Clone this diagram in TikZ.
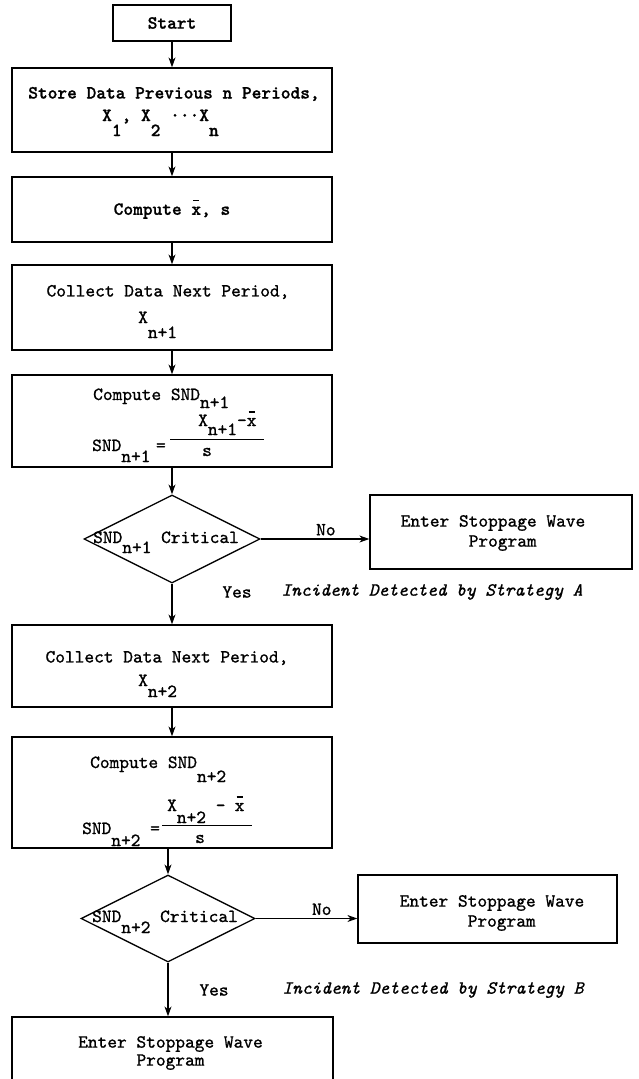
\documentclass[tikz,border=0pt]{standalone}
\usepackage{fontspec}
\usetikzlibrary{arrows.meta,positioning,shapes.geometric}
\newfontfamily\twfam{lmmono10-regular.otf}[BoldFont=lmmonolt10-bold.otf,ItalicFont=lmmono10-italic.otf,FakeBold=1]
\newcommand{\tw}{\fontsize{18.5}{20}\selectfont\twfam}
\newcommand{\dn}[2][12pt]{\raisebox{-#1}{#2}}
\newcommand{\xb}{\makebox[0pt][l]{\hspace{0.1em}\rule[0.72em]{0.33em}{0.07em}}x}

\begin{document}
\begin{tikzpicture}[x=1pt,y=-1pt,
  box/.style={draw,line width=1.3pt,inner sep=0pt},
  txt/.style={inner sep=0pt,font=\tw},
  dec/.style={draw,diamond,aspect=2,line width=1.3pt,inner sep=0pt},
  flow/.style={line width=1.1pt,-{Stealth[length=10pt,width=7pt]}}]
  \useasboundingbox (0,0) rectangle (638,1079);
  \clip (0,0) rectangle (638,1079);
  \fill[white] (0,0) rectangle (638,1079);

  % first pass: n+1
  \node[box,txt,draw,minimum width=118pt,minimum height=36pt,font=\tw\bfseries] (start) at (172,23) {Start};
  \node[box,minimum width=320pt,minimum height=84pt] (store) at (172,110) {};
  \node[txt,font=\tw\bfseries] (store1) at (174,94) {Store Data Previous n Periods,};
  \node[txt,font=\tw\bfseries,anchor=base west] (store2) at (102,121) {X\dn[15pt]{1}, X\dn[15pt]{2} \textperiodcentered\textperiodcentered\textperiodcentered X\dn[15pt]{n}};
  \node[box,txt,draw,minimum width=320pt,minimum height=65pt,font=\tw\bfseries] (comp) at (172,209.5) {Compute \xb, s};
  \node[box,minimum width=320pt,minimum height=85pt] (coll1) at (172,307.5) {};
  \node[txt] (coll1a) at (168,292) {Collect Data Next Period,};
  \node[txt,anchor=base west] (coll1b) at (138,323) {X\dn[15pt]{n+1}};
  \node[box,minimum width=320pt,minimum height=92pt] (snd1) at (172,421) {};
  \node[txt,anchor=base west] (snd1a) at (93,400) {Compute SND\dn[8pt]{n+1}};
  \node[txt,anchor=base west] (snd1n) at (198,426) {X\dn[9pt]{n+1}-\xb};
  \coordinate (f1a) at (170,439);
  \coordinate (f1b) at (264,439);
  \draw[line width=1pt] (f1a) -- (f1b);
  \node[txt] (snd1s) at (207,452) {s};
  \node[txt,anchor=base west] (snd1l) at (92,451) {SND\dn[11pt]{n+1}\hspace{0.3em}=};
  \node[dec,minimum width=176pt,minimum height=88pt] (dia1) at (172,539) {};
  \node[txt,anchor=base west] (dia1t) at (93,543) {SND\dn[10pt]{n+1} Critical};
  \node[box,minimum width=262pt,minimum height=74pt] (stop1) at (501,532) {};
  \node[txt,align=left] (stop1t) at (493,533) {Enter Stoppage Wave\\\hspace*{3.675em}Program};
  \node[txt] (yes1) at (237,592) {Yes};
  \node[txt,font=\tw\itshape] (stratA) at (432,592) {Incident Detected by Strategy A};

  % second pass: n+2
  \node[box,minimum width=320pt,minimum height=82pt] (coll2) at (172,666) {};
  \node[txt] (coll2a) at (167,658) {Collect Data Next Period,};
  \node[txt,anchor=base west] (coll2b) at (138,686) {X\dn[11pt]{n+2}};
  \node[box,minimum width=320pt,minimum height=111pt] (snd2) at (172,792.5) {};
  \node[txt,anchor=base west] (snd2a) at (90,768) {Compute SND\dn[14pt]{n+2}};
  \node[txt,anchor=base west] (snd2n) at (167,811) {X\dn[12pt]{n+2} -\hspace{0.5em}\xb};
  \coordinate (f2a) at (162,825);
  \coordinate (f2b) at (252,825);
  \draw[line width=1pt] (f2a) -- (f2b);
  \node[txt] (snd2s) at (200,839) {s};
  \node[txt,anchor=base west] (snd2l) at (82,834) {SND\dn{n+2} =};
  \node[dec,minimum width=174pt,minimum height=87pt] (dia2) at (168,918.5) {};
  \node[txt,anchor=base west] (dia2t) at (92,922) {SND\dn[11pt]{n+2} Critical};
  \node[box,minimum width=259pt,minimum height=68pt] (stop2) at (487.5,909) {};
  \node[txt,align=left] (stop2t) at (492,913) {Enter Stoppage Wave\\\hspace*{3.675em}Program};
  \node[txt] (yes2) at (214,990) {Yes};
  \node[txt,font=\tw\itshape] (stratB) at (433,990) {Incident Detected by Strategy B};
  \node[box,minimum width=321pt,minimum height=68pt] (final) at (172.5,1051) {};
  \node[txt,align=left,font=\fontsize{18.5}{18}\selectfont\twfam] (finalt) at (170.5,1053) {Enter Stoppage Wave\\\hspace*{3.15em}Program};

  % connectors
  \draw[flow] (start) -- (store);
  \draw[flow] (store) -- (comp);
  \draw[flow] (comp) -- (coll1);
  \draw[flow] (coll1) -- (snd1);
  \draw[flow] (snd1) -- (dia1);
  \draw[flow] (dia1.east) -- node[pos=0.6,above=3pt,txt] (no1) {No} (dia1.east -| stop1.west);
  \draw[flow] (dia1) -- (coll2);
  \draw[flow] (coll2) -- (snd2);
  \draw[flow] (snd2.south -| dia2.north) -- (dia2.north);
  \draw[flow] (dia2.east) -- node[pos=0.65,above=3pt,txt] (no2) {No} (dia2.east -| stop2.west);
  \draw[flow] (dia2.south) -- (dia2.south |- final.north);
\end{tikzpicture}
\end{document}
